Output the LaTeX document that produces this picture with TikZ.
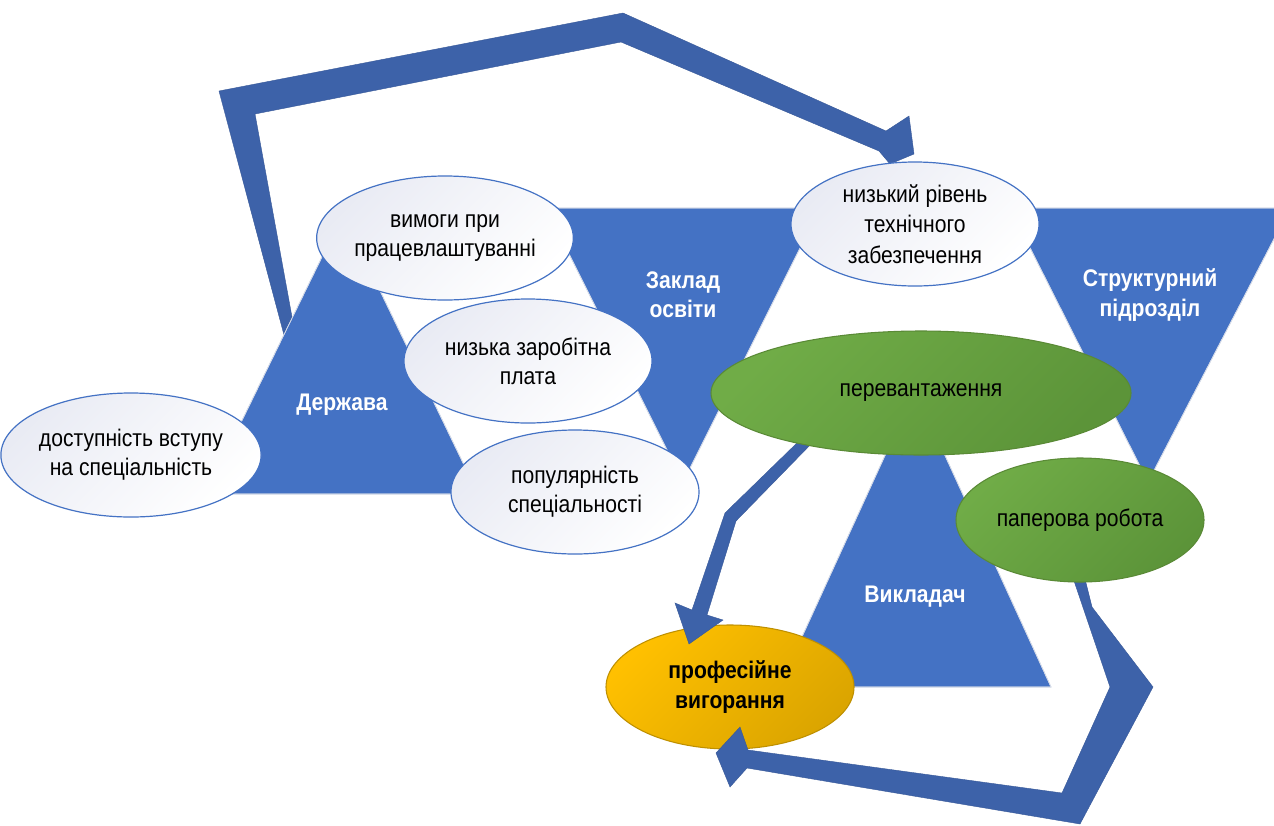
\documentclass[tikz,border=0pt]{standalone}
\usepackage{fontspec}
\setmainfont{Liberation Sans}[FakeStretch=0.88]
\usetikzlibrary{shapes.geometric}
\definecolor{triblue}{HTML}{4472C4}
\definecolor{arrblue}{HTML}{3D62A9}
\definecolor{ellborder}{HTML}{4472C4}
\definecolor{ellgray}{HTML}{E9EBF4}
\definecolor{grn1}{HTML}{70AC47}
\definecolor{grn2}{HTML}{5C9439}
\definecolor{grnb}{HTML}{5A8A36}
\definecolor{yel1}{HTML}{FFC000}
\definecolor{yel2}{HTML}{DBA500}
\definecolor{yelb}{HTML}{BF9000}
\definecolor{triedge}{HTML}{D5DBE8}
\begin{document}
\begin{tikzpicture}[x=0.75pt,y=-0.75pt,
  tri/.style={fill=triblue, draw=triedge, line width=0.5pt},
  bigarrow/.style={fill=arrblue, draw=arrblue!90!black, line width=0.3pt, line join=miter},
  basell/.style={ellipse, inner sep=0pt, minimum width=186pt, minimum height=93pt, align=center, font=\fontsize{18pt}{22pt}\selectfont},
  wellipse/.style={basell, draw=ellborder, line width=0.9pt, top color=ellgray, bottom color=white, shading angle=45},
  gellipse/.style={basell, draw=grnb, line width=0.8pt, top color=grn1, bottom color=grn2, shading angle=45},
  yellipse/.style={basell, draw=yelb, line width=0.8pt, top color=yel1, bottom color=yel2, shading angle=45, font=\fontsize{18pt}{22pt}\selectfont\bfseries},
  trilabel/.style={text=white, align=center, font=\fontsize{18pt}{22pt}\selectfont\bfseries}
]
\useasboundingbox (0,0) rectangle (1274,825);
\fill[white] (0,0) rectangle (1274,825);

% big top arrow (tail hidden under the first triangle)
\fill[bigarrow] (288,350) -- (219,91) -- (623,13) -- (886,131) -- (909,116) -- (914,154) -- (890,164) -- (879,151) -- (621,42) -- (255,114) -- (298,350) -- cycle;

% triangles
\fill[tri] (206,494) -- (343,214) -- (478,494) -- cycle;
\fill[tri] (546,208) -- (820,208) -- (683,482) -- cycle;
\fill[tri] (1010,208) -- (1290,208) -- (1148,482) -- cycle;
\fill[tri] (779,687) -- (915,390) -- (1051,687) -- cycle;
\draw[draw=triedge, line width=0.5pt] (206,494) -- (343,214) -- (478,494) -- cycle
  (546,208) -- (820,208) -- (683,482) -- cycle
  (1010,208) -- (1290,208) -- (1148,482) -- cycle
  (779,687) -- (915,390) -- (1051,687) -- cycle;

\node[trilabel] (lderzh) at (342,405) {Держава};
\node[trilabel] (lzaklad) at (683,295) {Заклад\\освіти};
\node[trilabel] (lstrukt) at (1150,295) {Структурний\\підрозділ};
\node[trilabel] (lvykl) at (915,597) {Викладач};

% white ellipses
\node[wellipse] (dost) at (131,455) {доступність вступу\\на спеціальність};
\node[wellipse] (vymohy) at (445,238) {вимоги при\\працевлаштуванні};
\node[wellipse] (nyzka) at (528,361) {низька заробітна\\плата};
\node[wellipse] (popul) at (575,492) {популярність\\спеціальності};
\node[wellipse] (nyzkyi) at (915,224) {низький рівень\\[1pt]технічного\\[1pt]забезпечення};

% burnout ellipse
\node[yellipse] (prof) at (730,687) {професійне\\вигорання};

% arrows into burnout
\fill[bigarrow] (800,440) -- (725,513) -- (692,610) -- (675,603) -- (689,644) -- (723,620) -- (707,615) -- (736,521) -- (815,440) -- cycle;
\fill[bigarrow] (1072,575) -- (1110,687) -- (1062,793) -- (748,750) -- (740,727) -- (716,753) -- (730,787) -- (747,768) -- (1080,824) -- (1153,687) -- (1092,607) -- (1084,575) -- cycle;

% green ellipses
\node[gellipse, minimum width=315pt] (perev) at (921,393) {перевантаження};
\node[gellipse] (paper) at (1080,520) {паперова робота};
\end{tikzpicture}
\end{document}
